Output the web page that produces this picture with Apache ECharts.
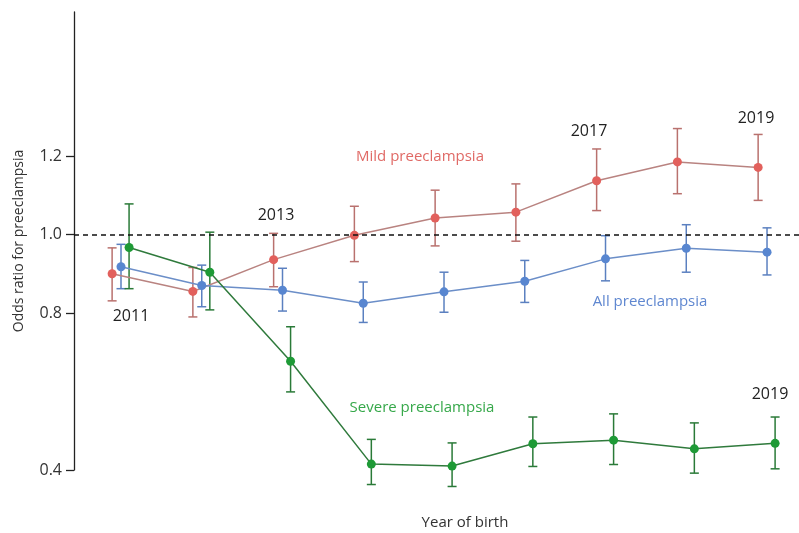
<!DOCTYPE html>
<html>
<head>
<meta charset="utf-8">
<style>
  html, body { margin: 0; padding: 0; background: #fff; }
  #chart { width: 799px; height: 533px; }
</style>
<script src="https://cdn.jsdelivr.net/npm/echarts@6/dist/echarts.min.js"></script>
</head>
<body>
<div id="chart"></div>
<script>
// Birth years on the horizontal axis
const years = [2011, 2012, 2013, 2014, 2015, 2016, 2017, 2018, 2019];

// Odds ratios with 95% confidence limits
const mildOR    = [0.900, 0.855, 0.936, 0.998, 1.042, 1.057, 1.137, 1.185, 1.171];
const mildLow   = [0.831, 0.790, 0.867, 0.931, 0.971, 0.983, 1.061, 1.104, 1.087];
const mildHigh  = [0.966, 0.916, 1.003, 1.072, 1.113, 1.129, 1.218, 1.270, 1.255];

const allOR     = [0.918, 0.870, 0.858, 0.825, 0.854, 0.881, 0.938, 0.965, 0.955];
const allLow    = [0.862, 0.816, 0.805, 0.776, 0.802, 0.827, 0.882, 0.904, 0.897];
const allHigh   = [0.975, 0.922, 0.914, 0.879, 0.904, 0.934, 0.997, 1.025, 1.017];

const severeOR   = [0.967, 0.904, 0.677, 0.415, 0.410, 0.467, 0.476, 0.454, 0.468];
const severeLow  = [0.862, 0.808, 0.599, 0.363, 0.358, 0.409, 0.414, 0.392, 0.403];
const severeHigh = [1.078, 1.006, 0.765, 0.478, 0.469, 0.535, 0.543, 0.520, 0.535];

// Y-axis tick labels
const yTicks = [0.4, 0.8, 1.0, 1.2];

const FONT = '"Open Sans", "Noto Sans", sans-serif';

// Small horizontal dodge (in years) so the three series do not overlap
const DODGE = { mild: -0.11, all: 0, severe: 0.1 };

function pts(vals, dodge) {
  return years.map((y, i) => [y + dodge, vals[i]]);
}

function errorBars(name, low, high, dodge, color) {
  return {
    name: name + ' CI',
    type: 'custom',
    clip: false,
    z: 2,
    data: years.map((y, i) => [y + dodge, low[i], high[i]]),
    renderItem: function (params, api) {
      const lo = api.coord([api.value(0), api.value(1)]);
      const hi = api.coord([api.value(0), api.value(2)]);
      const cap = 4.5;
      const style = { stroke: color, lineWidth: 1.5, fill: null };
      return {
        type: 'group',
        children: [
          { type: 'line', shape: { x1: hi[0], y1: hi[1], x2: lo[0], y2: lo[1] }, style: style },
          { type: 'line', shape: { x1: hi[0] - cap, y1: hi[1], x2: hi[0] + cap, y2: hi[1] }, style: style },
          { type: 'line', shape: { x1: lo[0] - cap, y1: lo[1], x2: lo[0] + cap, y2: lo[1] }, style: style }
        ]
      };
    }
  };
}

function lineSeries(name, vals, dodge, lineColor, dotColor, z) {
  return {
    name: name,
    type: 'line',
    data: pts(vals, dodge),
    clip: false,
    z: z,
    symbol: 'circle',
    symbolSize: 9,
    lineStyle: { color: lineColor, width: 1.5 },
    itemStyle: { color: dotColor, borderWidth: 0 }
  };
}

const chart = echarts.init(document.getElementById('chart'), null, { renderer: 'canvas' });

// Year call-outs placed beside selected points
const annotations = [
  { text: '2011', x: 131, y: 316 },
  { text: '2013', x: 276, y: 215 },
  { text: '2017', x: 589, y: 131 },
  { text: '2019', x: 756, y: 118 },
  { text: '2019', x: 770, y: 394 }
];

chart.setOption({
  animation: false,
  backgroundColor: '#ffffff',
  grid: { left: 74, right: 0, top: 12, bottom: 63 },
  xAxis: {
    type: 'value',
    min: 2010.418,
    max: 2019.396,
    axisLine: { show: false },
    axisTick: { show: false },
    axisLabel: { show: false },
    splitLine: { show: false }
  },
  yAxis: {
    type: 'value',
    min: 0.4,
    max: 1.567,
    name: 'Odds ratio for preeclampsia',
    nameLocation: 'middle',
    nameGap: 48,
    nameRotate: 90,
    nameTextStyle: { fontFamily: FONT, fontSize: 14, color: '#333' },
    axisLine: { show: true, lineStyle: { color: '#222', width: 1.3 } },
    axisTick: { show: true, inside: false, length: 8, customValues: yTicks, lineStyle: { color: '#222', width: 1.3 } },
    axisLabel: {
      customValues: yTicks,
      formatter: v => v.toFixed(1),
      fontFamily: FONT, fontSize: 16, color: '#333', margin: 12
    },
    splitLine: { show: false }
  },
  series: [
    {
      name: 'reference',
      type: 'line',
      data: [],
      markLine: {
        silent: true,
        symbol: 'none',
        label: { show: false },
        lineStyle: { color: '#111', type: [5, 4], width: 1.5 },
        data: [{ yAxis: 1.0 }]
      }
    },
    errorBars('Mild preeclampsia', mildLow, mildHigh, DODGE.mild, '#b9716e'),
    lineSeries('Mild preeclampsia', mildOR, DODGE.mild, '#b98380', '#e2605c', 3),
    errorBars('All preeclampsia', allLow, allHigh, DODGE.all, '#5b80c0'),
    lineSeries('All preeclampsia', allOR, DODGE.all, '#6b8ec8', '#5886d0', 4),
    errorBars('Severe preeclampsia', severeLow, severeHigh, DODGE.severe, '#2a7a38'),
    lineSeries('Severe preeclampsia', severeOR, DODGE.severe, '#2f7a3c', '#1e9a36', 5)
  ],
  graphic: [
    { type: 'text', x: 420, y: 157, style: { text: 'Mild preeclampsia', fill: '#e06a66', font: '15px ' + FONT, align: 'center', verticalAlign: 'middle' } },
    { type: 'text', x: 650, y: 302, style: { text: 'All preeclampsia', fill: '#5f87d0', font: '15px ' + FONT, align: 'center', verticalAlign: 'middle' } },
    { type: 'text', x: 422, y: 408, style: { text: 'Severe preeclampsia', fill: '#36a84a', font: '15px ' + FONT, align: 'center', verticalAlign: 'middle' } },
    { type: 'text', x: 465, y: 523, style: { text: 'Year of birth', fill: '#333', font: '15px ' + FONT, align: 'center', verticalAlign: 'middle' } }
  ].concat(annotations.map(a => ({
    type: 'text', x: a.x, y: a.y,
    style: { text: a.text, fill: '#222', font: '16px ' + FONT, align: 'center', verticalAlign: 'middle' }
  })))
});
</script>
</body>
</html>
